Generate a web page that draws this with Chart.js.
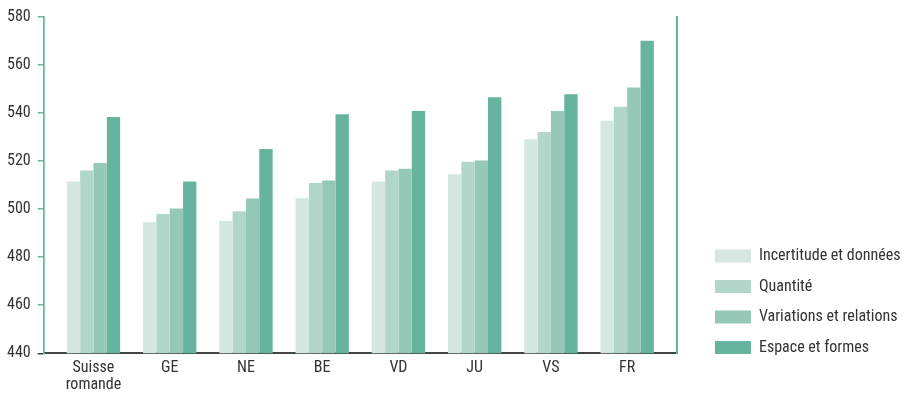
<!DOCTYPE html>
<html>
<head>
<meta charset="utf-8">
<script src="https://cdn.jsdelivr.net/npm/chart.js@4/dist/chart.umd.min.js"></script>
<style>
  html, body { margin: 0; padding: 0; background: #ffffff; }
  #wrap { position: relative; width: 912px; height: 400px; }
</style>
</head>
<body>
<div id="wrap"><canvas id="c" width="912" height="400"></canvas></div>
<script>
// ---- data ----
const categories = [['Suisse', 'romande'], 'GE', 'NE', 'BE', 'VD', 'JU', 'VS', 'FR'];
const seriesNames = ['Incertitude et données', 'Quantité', 'Variations et relations', 'Espace et formes'];
const incertitude = [511.4, 494.5, 495.0, 504.5, 511.4, 514.4, 529.0, 536.7];
const quantite    = [516.0, 497.9, 499.1, 510.8, 516.0, 519.6, 532.0, 542.5];
const variations  = [519.1, 500.2, 504.4, 511.9, 516.7, 520.2, 540.7, 550.5];
const espace      = [538.3, 511.4, 525.0, 539.4, 540.7, 546.5, 547.7, 570.0];
const yTicks = [440, 460, 480, 500, 520, 540, 560, 580];

const colors = ['#d4e7e0', '#b2d7ca', '#95c8b6', '#66b49e'];
const green = '#66b49e';
const dark = '#444444';
const textColor = '#333333';
const FONT = "'Roboto Condensed', 'Roboto', sans-serif";
const FSIZE = 16;

// Category scale with extra empty space at both ends
class PaddedCategoryScale extends Chart.CategoryScale {
  buildTicks() {
    const ticks = super.buildTicks();
    const p = this.options.edgePad || 0;
    this._startValue -= p;
    this._valueRange += 2 * p;
    return ticks;
  }
}
PaddedCategoryScale.id = 'paddedCategory';
PaddedCategoryScale.defaults = Chart.CategoryScale.defaults;
Chart.register(PaddedCategoryScale);

const legendPlacer = {
  id: 'legendPlacer',
  afterLayout(chart) {
    const lg = chart.legend;
    if (lg) { lg.top = 233.5; }
  }
};

const allSeries = [incertitude, quantite, variations, espace];

new Chart(document.getElementById('c'), {
  type: 'bar',
  data: {
    labels: categories,
    datasets: allSeries.map((d, i) => ({
      label: seriesNames[i],
      data: d,
      backgroundColor: colors[i],
      borderWidth: 0,
      barPercentage: 1.0,
      categoryPercentage: 0.7
    }))
  },
  options: {
    responsive: false,
    animation: false,
    layout: { padding: { left: 0, top: 1.8, right: 1.5, bottom: 0 } },
    plugins: {
      tooltip: { enabled: false },
      legend: {
        position: 'right',
        align: 'start',
        maxWidth: 320,
        labels: {
          boxWidth: 36,
          boxHeight: 13,
          padding: 14.5,
          color: textColor,
          font: { family: FONT, size: FSIZE }
        }
      }
    },
    scales: {
      x: {
        type: 'paddedCategory',
        edgePad: 0.1528,
        grid: { display: false, drawTicks: false },
        border: { display: true, color: dark, width: 2 },
        ticks: {
          color: textColor,
          font: { family: FONT, size: FSIZE, lineHeight: 1.1 },
          padding: 5.75,
          maxRotation: 0,
          autoSkip: false
        }
      },
      y: {
        min: yTicks[0],
        max: yTicks[yTicks.length - 1],
        afterBuildTicks: (s) => { s.ticks = yTicks.map(v => ({ value: v })); },
        grid: {
          drawOnChartArea: false,
          drawTicks: true,
          tickLength: 6,
          lineWidth: 1.5,
          color: (ctx) => (ctx.tick && ctx.tick.value === yTicks[0]) ? dark : green
        },
        border: { display: true, color: green, width: 1.7 },
        ticks: {
          color: textColor,
          font: { family: FONT, size: FSIZE },
          padding: 7
        }
      },
      y2: {
        position: 'right',
        min: 0, max: 1,
        grid: { display: false, drawTicks: false },
        ticks: { display: false },
        border: { display: true, color: green, width: 2 },
        afterFit: (s) => { s.width = 23.5; }
      }
    }
  },
  plugins: [legendPlacer]
});
</script>
</body>
</html>
